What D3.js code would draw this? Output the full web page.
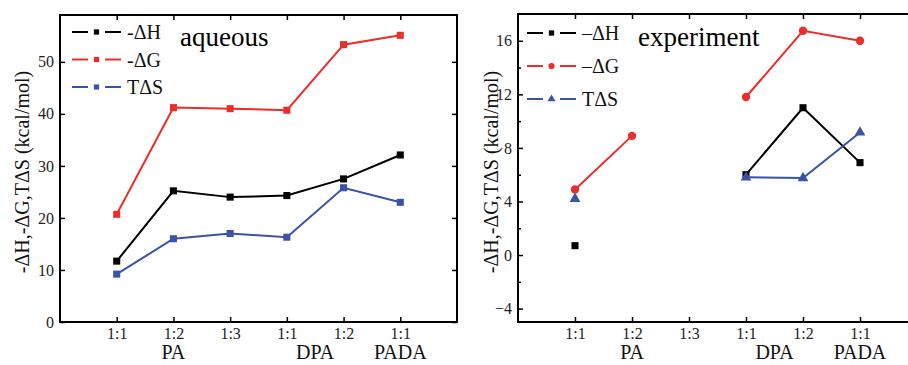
<!DOCTYPE html>
<html>
<head>
<meta charset="utf-8">
<script src="https://cdn.jsdelivr.net/npm/d3@7/dist/d3.min.js"></script>
<style>
  body { margin: 0; background: #fff; }
  svg, svg text { font-family: "Liberation Serif", "DejaVu Serif", "Times New Roman", Times, serif; }
  svg { display: block; }
</style>
</head>
<body>
<svg id="chart" width="908" height="365"></svg>
<script>
// categories (x positions 1..6)
const ratios = ['1:1', '1:2', '1:3', '1:1', '1:2', '1:1'];
const groups = ['PA', 'DPA', 'PADA'];
const groupAt = [2, 4.5, 6];

// aqueous panel
const aqDH = [11.7, 25.2, 24.0, 24.3, 27.5, 32.1];
const aqDG = [20.7, 41.2, 41.0, 40.7, 53.3, 55.1];
const aqTS = [9.2, 16.0, 17.0, 16.3, 25.8, 23.0];
const aqTicks = [0, 10, 20, 30, 40, 50];

// experiment panel (null = no measurement)
const exDH = [0.7, null, null, 6.0, 11.0, 6.9];
const exDG = [4.9, 8.9, null, 11.8, 16.75, 16.0];
const exTS = [4.2, null, null, 5.8, 5.75, 9.15];
const exTicks = [-4, 0, 4, 8, 12, 16];
const exMinor = [-2, 2, 6, 10, 14];

const BLACK = '#000000', RED = '#ec2d2a', BLUE = '#3953a6';
const FONT = '"Liberation Serif", "DejaVu Serif", "Times New Roman", Times, serif';

const svg = d3.select('#chart');

function panel(opt) {
  const x = d3.scaleLinear().domain([0, 7]).range([opt.left, opt.right]);
  const y = d3.scaleLinear().domain(opt.yDomain).range([322, opt.top]);
  const g = svg.append('g').style('font-family', FONT);

  // frame
  g.append('rect')
    .attr('x', opt.left).attr('y', opt.top)
    .attr('width', opt.right - opt.left).attr('height', 322 - opt.top)
    .attr('fill', 'none').attr('stroke', '#000').attr('stroke-width', 2);

  const idx = d3.range(1, 7);

  g.append('g')
    .attr('transform', 'translate(0,322)')
    .call(d3.axisBottom(x).tickValues(idx).tickFormat(i => ratios[i - 1]).tickSize(-5).tickPadding(6));
  g.append('g')
    .attr('transform', `translate(0,${opt.top})`)
    .call(d3.axisTop(x).tickValues(idx).tickFormat('').tickSize(-5));
  g.append('g')
    .attr('transform', `translate(${opt.left},0)`)
    .call(d3.axisLeft(y).tickValues(opt.ticks).tickFormat(d3.format('d')).tickSize(-5).tickPadding(6));
  g.append('g')
    .attr('transform', `translate(${opt.right},0)`)
    .call(d3.axisRight(y).tickValues(opt.ticks).tickFormat('').tickSize(-5));

  if (opt.minor) {
    g.append('g')
      .attr('transform', `translate(${opt.left},0)`)
      .call(d3.axisLeft(y).tickValues(opt.minor).tickFormat('').tickSize(-3));
    g.append('g')
      .attr('transform', `translate(${opt.right},0)`)
      .call(d3.axisRight(y).tickValues(opt.minor).tickFormat('').tickSize(-3));
  }

  g.selectAll('.domain').remove();
  g.selectAll('.tick line').attr('stroke', '#000').attr('stroke-width', 1.5);
  g.selectAll('.tick text')
    .attr('fill', '#222')
    .attr('font-family', FONT)
    .attr('font-size', 16);

  // group labels
  g.selectAll('.grp').data(groups).join('text')
    .attr('x', (d, i) => x(groupAt[i]))
    .attr('y', 359)
    .attr('text-anchor', 'middle')
    .attr('font-family', FONT)
    .attr('font-size', 20)
    .attr('fill', '#111')
    .text(d => d);

  // y label
  g.append('text')
    .attr('transform', `translate(${opt.labelX},172) rotate(-90)`)
    .attr('text-anchor', 'middle')
    .attr('font-family', FONT)
    .attr('font-size', 20)
    .attr('fill', '#111')
    .text('-ΔH,-ΔG,TΔS (kcal/mol)');

  // title
  g.append('text')
    .attr('x', opt.titleX).attr('y', 46)
    .attr('font-family', FONT)
    .attr('font-size', 27)
    .attr('fill', '#000')
    .text(opt.title);

  const line = d3.line()
    .defined(d => d != null)
    .x((d, i) => x(i + 1))
    .y(d => y(d));

  opt.series.forEach(s => {
    g.append('path')
      .datum(s.values)
      .attr('fill', 'none')
      .attr('stroke', s.color)
      .attr('stroke-width', 2)
      .attr('d', line);

    const pts = s.values.map((v, i) => ({ v, i })).filter(p => p.v != null);
    g.selectAll(null).data(pts).join('path')
      .attr('transform', p => `translate(${x(p.i + 1)},${y(p.v)})`)
      .attr('fill', s.color)
      .attr('d', d3.symbol().type(s.symbol).size(s.size));
  });

  // legend
  opt.series.forEach((s, k) => {
    const ly = opt.legY + k * opt.legStep;
    const lg = g.append('g').attr('transform', `translate(${opt.legX},${ly})`);
    lg.append('line').attr('x1', 0).attr('x2', 16).attr('y1', 0).attr('y2', 0)
      .attr('stroke', s.color).attr('stroke-width', 2);
    lg.append('line').attr('x1', 33).attr('x2', 49).attr('y1', 0).attr('y2', 0)
      .attr('stroke', s.color).attr('stroke-width', 2);
    lg.append('path')
      .attr('transform', 'translate(24.5,0)')
      .attr('fill', s.color)
      .attr('d', d3.symbol().type(s.symbol).size(s.size * 0.55));
    lg.append('text')
      .attr('x', 55).attr('y', 7)
      .attr('font-family', FONT)
      .attr('font-size', 20)
      .attr('fill', '#111')
      .text(s.name);
  });
}

panel({
  left: 60, right: 457, top: 15,
  yDomain: [0, 59], ticks: aqTicks,
  labelX: 29, title: 'aqueous', titleX: 180,
  legX: 72, legY: 32, legStep: 27.5,
  series: [
    { name: '-ΔH', values: aqDH, color: BLACK, symbol: d3.symbolSquare, size: 50 },
    { name: '-ΔG', values: aqDG, color: RED, symbol: d3.symbolSquare, size: 50 },
    { name: 'TΔS', values: aqTS, color: BLUE, symbol: d3.symbolSquare, size: 50 }
  ]
});

panel({
  left: 518, right: 917, top: 14,
  yDomain: [-5, 18], ticks: exTicks, minor: exMinor,
  labelX: 498, title: 'experiment', titleX: 638,
  legX: 527, legY: 33, legStep: 33,
  series: [
    { name: '–ΔH', values: exDH, color: BLACK, symbol: d3.symbolSquare, size: 50 },
    { name: '–ΔG', values: exDG, color: RED, symbol: d3.symbolCircle, size: 55 },
    { name: 'TΔS', values: exTS, color: BLUE, symbol: d3.symbolTriangle, size: 50 }
  ]
});
</script>
</body>
</html>
